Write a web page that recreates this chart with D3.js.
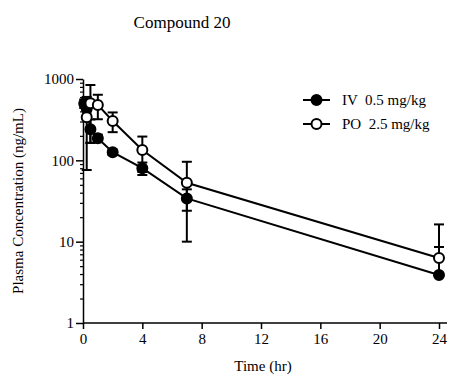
<!DOCTYPE html>
<html>
<head>
<meta charset="utf-8">
<script src="https://cdn.jsdelivr.net/npm/d3@7"></script>
<style>
  body { margin: 0; background: #fff; }
  svg text { font-family: "Liberation Serif", "DejaVu Serif", "Times New Roman", serif !important; }
</style>
</head>
<body>
<div id="chart"></div>
<script>
// series data
var ivTime = [0.083, 0.25, 0.5, 1, 2, 4, 7, 24];
var ivMean = [500, 430, 241, 187, 126, 80, 34, 3.9];
var ivSd   = [60, 90, 77, 20, 10, 14, 10, 4.7];

var poTime = [0.25, 0.5, 1, 2, 4, 7, 24];
var poMean = [339, 504, 480, 305, 134, 53, 6.3];
var poSd   = [263, 340, 160, 83, 62, 43, 10];

var xTicks = [0, 4, 8, 12, 16, 20, 24];
var yTicks = [1, 10, 100, 1000];

var width = 450, height = 377;

var svg = d3.select("#chart").append("svg")
    .attr("width", width)
    .attr("height", height);

var x = d3.scaleLinear().domain([0, 24]).range([83, 439]);
var y = d3.scaleLog().domain([1, 1000]).range([323, 79]);

// title
svg.append("text")
    .attr("x", 182)
    .attr("y", 28)
    .attr("text-anchor", "middle")
    .style("font-size", "17px")
    .text("Compound 20");

// x axis
var xAxis = svg.append("g")
    .attr("transform", "translate(0," + y(1) + ")")
    .call(d3.axisBottom(x).tickValues(xTicks).tickSize(6).tickSizeOuter(0).tickPadding(4));
xAxis.select(".domain")
    .attr("d", "M" + x(0) + ",0H" + (x(24) + 8))
    .attr("stroke-width", 1.5);
xAxis.selectAll(".tick line").attr("stroke-width", 1.5);
xAxis.selectAll(".tick text").style("font-size", "15px");

// y axis, log with minor ticks
var minor = [];
for (var p = 1; p < 1000; p *= 10) {
    for (var m = 2; m < 10; m++) minor.push(p * m);
}
var yMinor = svg.append("g")
    .attr("transform", "translate(" + x(0) + ",0)")
    .call(d3.axisLeft(y).tickValues(minor).tickSize(3).tickFormat(""));
yMinor.select(".domain").remove();
yMinor.selectAll(".tick line").attr("stroke-width", 1.2);

var yAxis = svg.append("g")
    .attr("transform", "translate(" + x(0) + ",0)")
    .call(d3.axisLeft(y).tickValues(yTicks).tickSize(7).tickSizeOuter(0).tickPadding(2)
        .tickFormat(d3.format("d")));
yAxis.select(".domain").attr("stroke-width", 1.5);
yAxis.selectAll(".tick line").attr("stroke-width", 1.5);
yAxis.selectAll(".tick text").style("font-size", "15px");

// axis titles
svg.append("text")
    .attr("x", 263)
    .attr("y", 371)
    .attr("text-anchor", "middle")
    .style("font-size", "15px")
    .text("Time (hr)");

svg.append("text")
    .attr("transform", "translate(23," + ((y(1) + y(1000)) / 2) + ") rotate(-90)")
    .attr("text-anchor", "middle")
    .style("font-size", "15px")
    .text("Plasma Concentration (ng/mL)");

function toRows(t, mean, sd) {
    return t.map(function(d, i) { return { t: d, m: mean[i], s: sd[i] }; });
}

var series = [
    { rows: toRows(ivTime, ivMean, ivSd), fill: "#000", label: "IV  0.5 mg/kg" },
    { rows: toRows(poTime, poMean, poSd), fill: "#fff", label: "PO  2.5 mg/kg" }
];

var line = d3.line()
    .x(function(d) { return x(d.t); })
    .y(function(d) { return y(d.m); });

var capW = 5;

series.forEach(function(s) {
    var g = svg.append("g");

    // error bars, lower half dropped when it would fall below the axis
    s.rows.forEach(function(d) {
        var hi = d.m + d.s;
        var lo = d.m - d.s;
        var cx = x(d.t);
        var eb = g.append("g").attr("stroke", "#000").attr("stroke-width", 2);
        eb.append("line").attr("x1", cx).attr("x2", cx)
            .attr("y1", y(hi)).attr("y2", lo > 1 ? y(lo) : y(d.m));
        eb.append("line").attr("x1", cx - capW).attr("x2", cx + capW)
            .attr("y1", y(hi)).attr("y2", y(hi));
        if (lo > 1) {
            eb.append("line").attr("x1", cx - capW).attr("x2", cx + capW)
                .attr("y1", y(lo)).attr("y2", y(lo));
        }
    });

    g.append("path")
        .datum(s.rows)
        .attr("d", line)
        .attr("fill", "none")
        .attr("stroke", "#000")
        .attr("stroke-width", 2);

    g.selectAll("circle")
        .data(s.rows)
        .enter().append("circle")
        .attr("cx", function(d) { return x(d.t); })
        .attr("cy", function(d) { return y(d.m); })
        .attr("r", 5)
        .attr("fill", s.fill)
        .attr("stroke", "#000")
        .attr("stroke-width", 2);
});

// legend
var legend = svg.append("g").attr("transform", "translate(303,100)");
series.forEach(function(s, i) {
    var row = legend.append("g").attr("transform", "translate(0," + (i * 24) + ")");
    row.append("line").attr("x1", 0).attr("x2", 27).attr("y1", 0).attr("y2", 0)
        .attr("stroke", "#000").attr("stroke-width", 2);
    row.append("circle").attr("cx", 13.5).attr("cy", 0).attr("r", 5)
        .attr("fill", s.fill).attr("stroke", "#000").attr("stroke-width", 2);
    row.append("text").attr("x", 39).attr("y", 5)
        .style("font-size", "15px")
        .style("white-space", "pre")
        .text(s.label);
});
</script>
</body>
</html>
